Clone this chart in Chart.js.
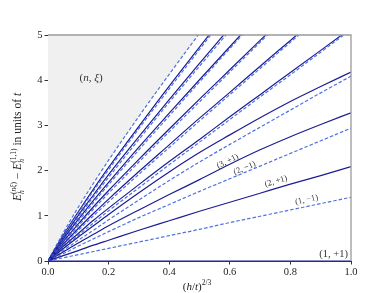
<!DOCTYPE html>
<html>
<head>
<meta charset="utf-8">
<script src="https://cdn.jsdelivr.net/npm/chart.js@4"></script>
<style>
  html, body { margin: 0; padding: 0; background: #fff; }
</style>
</head>
<body>
<canvas id="chart" width="390" height="293"></canvas>
<script>
const xs = [0, 0.05, 0.1, 0.15, 0.2, 0.3, 0.4, 0.5, 0.6, 0.7, 0.8, 0.9, 1.0];

// E_h^(n,xi) - E_h^(1,+1) in units of t (cut once past the top)
const e1p  = [0, 0, 0, 0, 0, 0, 0, 0, 0, 0, 0, 0, 0];
const e1m  = [0, 0.07, 0.14, 0.21, 0.28, 0.42, 0.56, 0.70, 0.85, 0.99, 1.13, 1.27, 1.41];
const e2p  = [0, 0.12, 0.23, 0.35, 0.46, 0.68, 0.89, 1.10, 1.30, 1.50, 1.70, 1.89, 2.09];
const e2m  = [0, 0.16, 0.33, 0.49, 0.65, 0.96, 1.25, 1.54, 1.82, 2.10, 2.38, 2.66, 2.94];
const e3p  = [0, 0.20, 0.40, 0.59, 0.78, 1.13, 1.47, 1.80, 2.14, 2.46, 2.75, 3.02, 3.28];
const e3m  = [0, 0.23, 0.46, 0.68, 0.91, 1.35, 1.78, 2.19, 2.58, 2.96, 3.34, 3.72, 4.09];
const e4p  = [0, 0.27, 0.53, 0.78, 1.03, 1.51, 1.97, 2.40, 2.79, 3.17, 3.53, 3.86, 4.18];
const e4m  = [0, 0.29, 0.57, 0.84, 1.11, 1.62, 2.13, 2.63, 3.13, 3.63, 4.12, 4.62, 5.12];
const e5p  = [0, 0.32, 0.61, 0.90, 1.17, 1.69, 2.20, 2.69, 3.19, 3.68, 4.17, 4.66, 5.15];
const e5m  = [0, 0.35, 0.68, 1.00, 1.31, 1.92, 2.51, 3.10, 3.68, 4.26, 4.84, 5.41];
const e6p  = [0, 0.37, 0.72, 1.05, 1.37, 1.98, 2.57, 3.16, 3.73, 4.31, 4.88, 5.46];
const e6m  = [0, 0.40, 0.78, 1.15, 1.50, 2.19, 2.86, 3.52, 4.18, 4.84, 5.49];
const e7p  = [0, 0.43, 0.82, 1.20, 1.56, 2.25, 2.92, 3.58, 4.23, 4.88, 5.53];
const e7m  = [0, 0.45, 0.88, 1.29, 1.69, 2.46, 3.21, 3.96, 4.70, 5.43];
const e8p  = [0, 0.48, 0.92, 1.34, 1.74, 2.52, 3.27, 4.01, 4.74, 5.47];
const e8m  = [0, 0.50, 0.97, 1.42, 1.85, 2.69, 3.51, 4.31, 5.10];
const e9p  = [0, 0.52, 1.01, 1.46, 1.91, 2.75, 3.57, 4.37, 5.16];
const e9m  = [0, 0.55, 1.06, 1.55, 2.02, 2.93, 3.81, 4.68, 5.54];
const e10p = [0, 0.57, 1.09, 1.59, 2.07, 2.98, 3.87, 4.73, 5.59];
const e10m = [0, 0.62, 1.19, 1.72, 2.23, 3.20, 4.13, 5.04, 5.95];

const xTicks = [0, 0.2, 0.4, 0.6, 0.8, 1.0];
const yTicks = [0, 1, 2, 3, 4, 5];

// [values, parity]: +1 drawn solid, -1 dashed
const series = [
    [e1p, 1], [e1m, -1], [e2p, 1], [e2m, -1], [e3p, 1], [e3m, -1],
    [e4p, 1], [e4m, -1], [e5p, 1], [e5m, -1], [e6p, 1], [e6m, -1],
    [e7p, 1], [e7m, -1], [e8p, 1], [e8m, -1], [e9p, 1], [e9m, -1],
    [e10p, 1], [e10m, -1]
];

// labels written along some of the curves: text, x, y (data units), curve it follows
const lineLabels = [
    ['(3, +1)', 0.592, 2.22, e3p],
    ['(2, \u22121)', 0.648, 2.07, e2m],
    ['(2, +1)', 0.752, 1.78, e2p],
    ['(1, \u22121)', 0.853, 1.37, e1m]
];

const SOLID = '#1c1c94';
const DASHED = '#4d72e3';
const SERIF = '"Liberation Serif", "DejaVu Serif", serif';

const datasets = series.map(function(s, k) {
    const vals = s[0];
    const last = k === series.length - 1;
    return {
        data: vals.map((v, i) => ({x: xs[i], y: v})),
        borderColor: s[1] > 0 ? SOLID : DASHED,
        borderWidth: 1.2,
        borderDash: s[1] > 0 ? [] : [3.5, 2],
        pointRadius: 0,
        cubicInterpolationMode: 'monotone',
        fill: last ? 'end' : false,
        backgroundColor: '#f0f0f0'
    };
});

// draw a run of text pieces with italic / size / shift
function richWidth(ctx, parts, base) {
    let w = 0;
    parts.forEach(p => {
        ctx.font = (p.it ? 'italic ' : '') + (p.sz || base) + 'px ' + SERIF;
        if (!p.noAdv) w += ctx.measureText(p.t).width;
    });
    return w;
}
function drawRich(ctx, parts, x, y, base, align) {
    let cx = x;
    const w = richWidth(ctx, parts, base);
    if (align === 'center') cx = x - w / 2;
    if (align === 'right') cx = x - w;
    ctx.textBaseline = 'alphabetic';
    ctx.textAlign = 'left';
    parts.forEach(p => {
        ctx.font = (p.it ? 'italic ' : '') + (p.sz || base) + 'px ' + SERIF;
        ctx.fillText(p.t, cx, y + (p.dy || 0));
        if (!p.noAdv) cx += ctx.measureText(p.t).width;
    });
}

function valueAt(vals, x) {
    for (let i = 1; i < vals.length; i++) {
        if (xs[i] >= x) {
            const f = (x - xs[i - 1]) / (xs[i] - xs[i - 1]);
            return vals[i - 1] + f * (vals[i] - vals[i - 1]);
        }
    }
    return vals[vals.length - 1];
}

const decorations = {
    id: 'decorations',
    afterDraw(chart) {
        const ctx = chart.ctx;
        const a = chart.chartArea;
        const sx = chart.scales.x, sy = chart.scales.y;
        ctx.save();

        // top and right spines
        ctx.strokeStyle = '#9a9a9a';
        ctx.lineWidth = 1.3;
        ctx.beginPath();
        ctx.moveTo(a.left, a.top);
        ctx.lineTo(a.right, a.top);
        ctx.lineTo(a.right, a.bottom);
        ctx.stroke();

        ctx.fillStyle = '#333';
        // region label
        drawRich(ctx, [{t: '('}, {t: 'n', it: 1}, {t: ', '}, {t: '\u03be', it: 1}, {t: ')'}],
            sx.getPixelForValue(0.142), sy.getPixelForValue(4.07) + 4, 11, 'center');
        // ground state label
        drawRich(ctx, [{t: '(1, +1)'}], a.right - 3, a.bottom - 4, 10.5, 'right');

        // labels along curves
        lineLabels.forEach(function(l) {
            const px = sx.getPixelForValue(l[1]);
            const py = sy.getPixelForValue(l[2]);
            const x0 = sx.getPixelForValue(l[1] - 0.05), x1 = sx.getPixelForValue(l[1] + 0.05);
            const y0 = sy.getPixelForValue(valueAt(l[3], l[1] - 0.05));
            const y1 = sy.getPixelForValue(valueAt(l[3], l[1] + 0.05));
            ctx.save();
            ctx.translate(px, py);
            ctx.rotate(Math.atan2(y1 - y0, x1 - x0));
            drawRich(ctx, [{t: l[0]}], 0, 3, 8.5, 'center');
            ctx.restore();
        });

        // axis titles
        ctx.fillStyle = '#222';
        drawRich(ctx, [{t: '('}, {t: 'h', it: 1}, {t: '/'}, {t: 't', it: 1}, {t: ')'},
            {t: '2/3', sz: 7.5, dy: -5}], 197, 290, 11, 'center');

        ctx.save();
        ctx.translate(21, 147);
        ctx.rotate(-Math.PI / 2);
        drawRich(ctx, [
            {t: 'E', it: 1}, {t: 'h', it: 1, sz: 7.5, dy: 2.5, noAdv: 1},
            {t: '(', sz: 7.5, dy: -5}, {t: 'n\u03be', it: 1, sz: 7.5, dy: -5}, {t: ')', sz: 7.5, dy: -5},
            {t: ' \u2212 '},
            {t: 'E', it: 1}, {t: 'h', it: 1, sz: 7.5, dy: 2.5, noAdv: 1},
            {t: '(1,1)', sz: 7.5, dy: -5},
            {t: ' in units of '}, {t: 't', it: 1}
        ], 0, 0, 11.5, 'center');
        ctx.restore();

        ctx.restore();
    }
};

new Chart(document.getElementById('chart'), {
    type: 'line',
    data: { datasets: datasets },
    options: {
        responsive: false,
        animation: false,
        devicePixelRatio: 1,
        layout: { padding: { top: 35, right: 39, left: 0, bottom: 0 } },
        plugins: {
            legend: { display: false },
            tooltip: { enabled: false },
            filler: { drawTime: 'beforeDatasetsDraw' }
        },
        scales: {
            x: {
                type: 'linear',
                min: 0,
                max: 1,
                afterBuildTicks: s => { s.ticks = xTicks.map(v => ({value: v})); },
                afterFit: s => { s.height = 32; },
                ticks: {
                    callback: v => v.toFixed(1),
                    color: '#222',
                    font: { family: SERIF, size: 10.5 },
                    padding: 1,
                    maxRotation: 0
                },
                grid: { drawOnChartArea: false, tickLength: 3.5, color: '#333' },
                border: { color: '#333', width: 1 }
            },
            y: {
                min: 0,
                max: 5,
                afterBuildTicks: s => { s.ticks = yTicks.map(v => ({value: v})); },
                afterFit: s => { s.width = 48; },
                ticks: {
                    color: '#222',
                    font: { family: SERIF, size: 10.5 },
                    padding: 2
                },
                grid: { drawOnChartArea: false, tickLength: 3.5, color: '#333' },
                border: { color: '#333', width: 1 }
            }
        }
    },
    plugins: [decorations]
});
</script>
</body>
</html>
